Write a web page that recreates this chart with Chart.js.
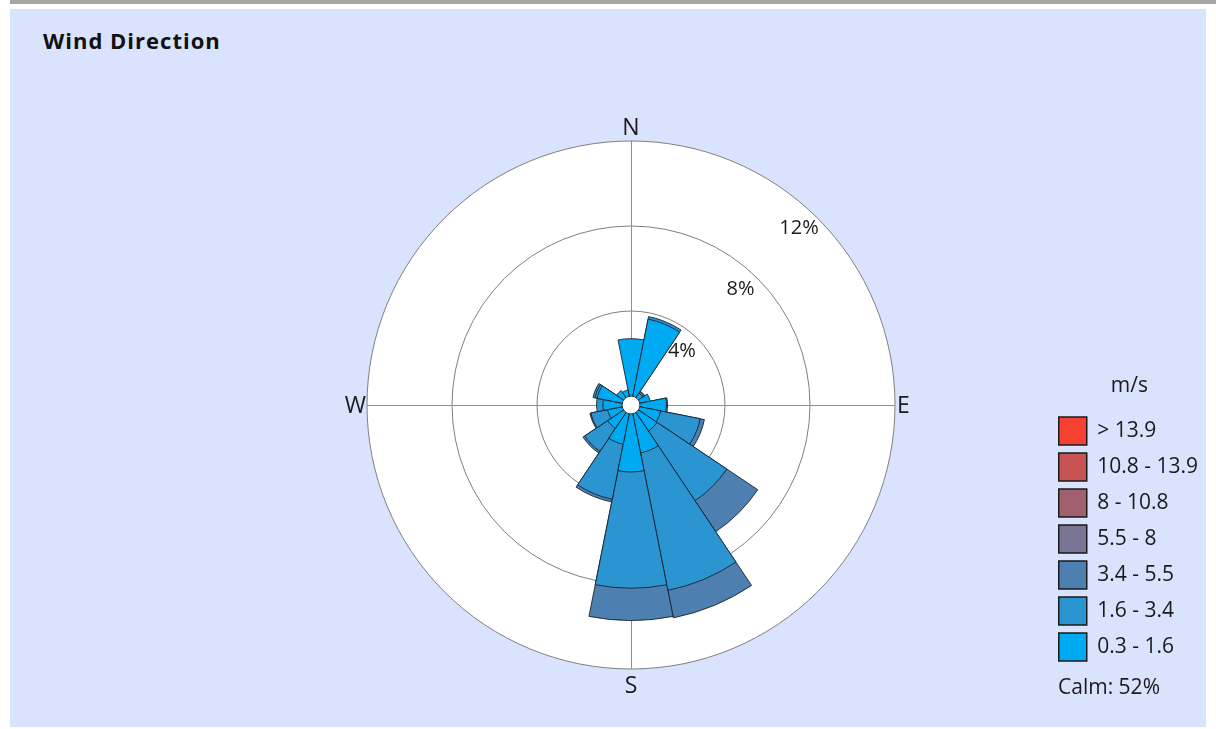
<!DOCTYPE html>
<html>
<head>
<meta charset="utf-8">
<script src="https://cdn.jsdelivr.net/npm/chart.js@4.4.1/dist/chart.umd.min.js"></script>
<style>
    html, body { margin: 0; padding: 0; background: #fff; }
    body { width: 1216px; height: 729px; position: relative; overflow: hidden; font-family: "Open Sans", sans-serif; }
    #barraSup { position: absolute; left: 10px; top: 0; width: 1206px; height: 4px; background: #a6a6a6; }
    #panel { position: absolute; left: 10px; top: 9px; width: 1196px; height: 718px; background: #d9e3fd; }
    #titulo { position: absolute; left: 43px; top: 25px; font: bold 22px "Open Sans", sans-serif; letter-spacing: 1px; color: #111; }
    #calma { position: absolute; left: 1058px; top: 672px; font-size: 21px; color: #1a1a1a; }
    #rosa { position: absolute; left: 10px; top: 9px; }
</style>
</head>
<body>
<div id="barraSup"></div>
<div id="panel"></div>
<div id="titulo">Wind Direction</div>
<canvas id="rosa" width="1206" height="718"></canvas>
<div id="calma"></div>

<script>
/* ============================
   Datos (% del tiempo)
============================ */
const direcciones = ["N", "NNE", "NE", "ENE", "E", "ESE", "SE", "SSE", "S", "SSW", "SW", "WSW", "W", "WNW", "NW", "NNW"];
const rangosVel = ["0.3 - 1.6", "1.6 - 3.4", "3.4 - 5.5", "5.5 - 8", "8 - 10.8", "10.8 - 13.9", "> 13.9"];
const coloresVel = ["#00aaf2", "#2b95d1", "#4d80b0", "#7a7595", "#a0606e", "#c85353", "#f5412f"];

const vel_03_16  = [2.7, 3.7, 0.25, 0.5, 1.25, 1.0, 1.05, 1.88, 2.73, 1.46, 0.9, 0.7, 0.9, 1.2, 0.4, 0.3];
const vel_16_34  = [0, 0.12, 0.08, 0, 0.05, 1.9, 3.95, 6.59, 5.47, 2.64, 1.3, 0.8, 0.3, 0.1, 0, 0];
const vel_34_55  = [0, 0, 0.03, 0, 0, 0.2, 1.75, 1.32, 1.52, 0.13, 0.1, 0.05, 0, 0.1, 0, 0];
const vel_55_8   = [0, 0, 0, 0, 0, 0, 0, 0, 0, 0, 0, 0, 0, 0, 0, 0];
const vel_8_108  = [0, 0, 0, 0, 0, 0, 0, 0, 0, 0, 0, 0, 0, 0, 0, 0];
const vel_108_139 = [0, 0, 0, 0, 0, 0, 0, 0, 0, 0, 0, 0, 0, 0, 0, 0];
const vel_139    = [0, 0, 0, 0, 0, 0, 0, 0, 0, 0, 0, 0, 0, 0, 0, 0];

const anillos = [4, 8, 12];
const etiquetasAnillo = ["4%", "8%", "12%"];
const calma = 52;

/* ============================
   Datasets apilados (acumulados)
============================ */
const frecuencias = [vel_03_16, vel_16_34, vel_34_55, vel_55_8, vel_8_108, vel_108_139, vel_139];
let acumulado = direcciones.map(() => 0);
const datasets = frecuencias.map((serie, i) => {
    acumulado = acumulado.map((a, k) => a + serie[k]);
    return {
        label: rangosVel[i],
        data: acumulado.map((a, k) => (serie[k] > 0 ? a : 0)),
        backgroundColor: coloresVel[i],
        borderColor: "rgba(25,35,45,0.9)",
        borderWidth: 1,
    };
});

document.getElementById("calma").textContent = `Calm: ${calma}%`;

/* ============================
   Decoración de la rosa
============================ */
const FUENTE = "'Open Sans', sans-serif";

const decorRosa = {
    id: "decorRosa",
    beforeDatasetsDraw(chart) {
        const s = chart.scales.r;
        const ctx = chart.ctx;
        const R = s.drawingArea;
        ctx.save();
        ctx.strokeStyle = "#8f8f8f";
        ctx.lineWidth = 1;
        ctx.beginPath();
        ctx.moveTo(s.xCenter + 0.5, s.yCenter - R);
        ctx.lineTo(s.xCenter + 0.5, s.yCenter + R);
        ctx.moveTo(s.xCenter - R, s.yCenter + 0.5);
        ctx.lineTo(s.xCenter + R, s.yCenter + 0.5);
        ctx.stroke();
        ctx.restore();
    },
    afterDatasetsDraw(chart) {
        const s = chart.scales.r;
        const ctx = chart.ctx;
        const cx = s.xCenter, cy = s.yCenter, R = s.drawingArea;
        ctx.save();

        // calma (hueco central)
        ctx.beginPath();
        ctx.arc(cx, cy, s.getDistanceFromCenterForValue(0), 0, Math.PI * 2);
        ctx.fillStyle = "#fff";
        ctx.fill();
        ctx.strokeStyle = "#333";
        ctx.lineWidth = 1;
        ctx.stroke();

        // etiquetas de anillos
        const ang = (43.5 * Math.PI) / 180;
        ctx.fillStyle = "#1a1a1a";
        ctx.font = `20px ${FUENTE}`;
        ctx.textAlign = "center";
        ctx.textBaseline = "middle";
        anillos.forEach((v, i) => {
            const d = s.getDistanceFromCenterForValue(v) - 20;
            ctx.fillText(etiquetasAnillo[i], cx + d * Math.sin(ang), cy - d * Math.cos(ang));
        });

        // puntos cardinales
        ctx.font = `23px ${FUENTE}`;
        ctx.textBaseline = "alphabetic";
        ctx.textAlign = "center";
        ctx.fillText("N", cx, cy - R - 6);
        ctx.fillText("S", cx, cy + R + 24);
        ctx.textAlign = "right";
        ctx.fillText("W", cx - R - 1, cy + 8);
        ctx.textAlign = "left";
        ctx.fillText("E", cx + R + 2, cy + 8);
        ctx.restore();
    },
};

/* ============================
   Gráfica
============================ */
Chart.defaults.font.family = FUENTE;

new Chart(document.getElementById("rosa"), {
    type: "polarArea",
    data: { labels: direcciones, datasets },
    options: {
        responsive: false,
        animation: false,
        layout: { padding: { left: 202, right: 8, top: 132, bottom: 58 } },
        scales: {
            r: {
                min: -0.42,
                max: 12,
                startAngle: -11.25,
                backgroundColor: "#ffffff",
                grid: { circular: true, color: "#7f7f7f", lineWidth: 1 },
                angleLines: { display: false },
                pointLabels: { display: false },
                ticks: { display: false },
                afterBuildTicks: (scale) => {
                    scale.ticks = [{ value: scale.min }, ...anillos.map((v) => ({ value: v }))];
                },
            },
        },
        plugins: {
            tooltip: { enabled: false },
            legend: {
                position: "right",
                align: "end",
                onClick: () => {},
                title: {
                    display: true,
                    text: "m/s",
                    color: "#1a1a1a",
                    font: { size: 21 },
                    padding: { bottom: 8 },
                },
                labels: {
                    boxWidth: 28,
                    boxHeight: 28,
                    padding: 8,
                    color: "#1a1a1a",
                    font: { size: 21 },
                    generateLabels: (chart) =>
                        chart.data.datasets
                            .map((ds, i) => ({
                                text: ds.label,
                                fillStyle: ds.backgroundColor,
                                strokeStyle: "#1a1a1a",
                                lineWidth: 1.5,
                                hidden: false,
                                datasetIndex: i,
                            }))
                            .reverse(),
                },
            },
        },
    },
    plugins: [decorRosa],
});
</script>
</body>
</html>
